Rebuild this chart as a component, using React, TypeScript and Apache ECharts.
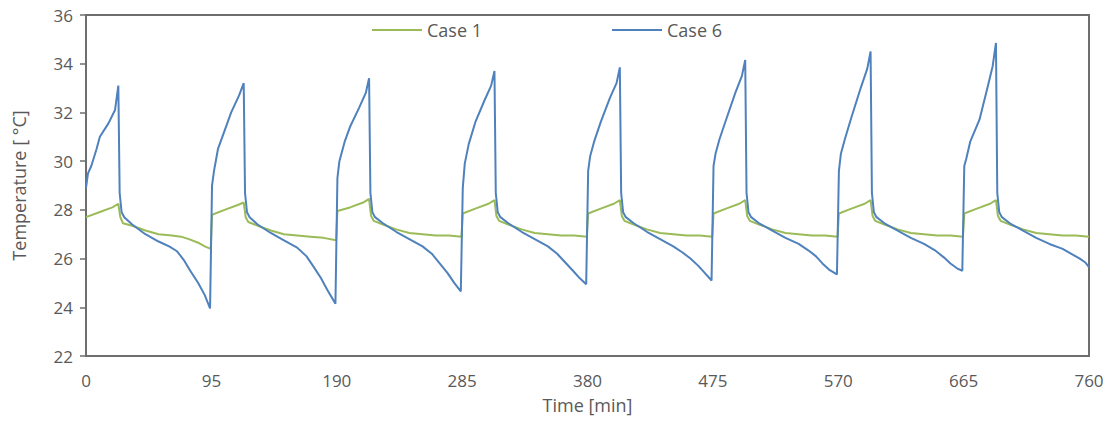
import React, { useEffect, useRef } from "react";
import * as echarts from "echarts";

const xTicks = [0, 95, 190, 285, 380, 475, 570, 665, 760];
const yTicks = [22, 24, 26, 28, 30, 32, 34, 36];

const seriesNames = ["Case 1", "Case 6"];

// Case 1: [time (min), temperature (°C)]
const case1: [number, number][] = [
  [0, 27.7], [10, 27.9], [20, 28.1], [24.5, 28.25], [26, 27.7], [28, 27.45], [35, 27.35], [45, 27.15], [55, 27.0], [65, 26.95], [72, 26.9], [78, 26.8], [85, 26.65], [90, 26.5], [94.5, 26.4],
  [95.5, 27.8], [105, 28.0], [115, 28.2], [119.5, 28.3], [121, 27.7], [123, 27.5], [130, 27.35], [140, 27.15], [150, 27.0], [160, 26.95], [170, 26.9], [180, 26.85], [189.5, 26.75],
  [190.5, 27.95], [200, 28.1], [210, 28.3], [214.5, 28.45], [216, 27.75], [218, 27.55], [225, 27.4], [235, 27.2], [245, 27.05], [255, 27.0], [265, 26.95], [275, 26.95], [284.5, 26.9],
  [285.5, 27.85], [295, 28.05], [305, 28.25], [309.5, 28.4], [311, 27.75], [313, 27.55], [320, 27.4], [330, 27.2], [340, 27.05], [350, 27.0], [360, 26.95], [370, 26.95], [379.5, 26.9],
  [380.5, 27.85], [390, 28.05], [400, 28.25], [404.5, 28.4], [406, 27.75], [408, 27.55], [415, 27.4], [425, 27.2], [435, 27.05], [445, 27.0], [455, 26.95], [465, 26.95], [474.5, 26.9],
  [475.5, 27.85], [485, 28.05], [495, 28.25], [499.5, 28.4], [501, 27.75], [503, 27.55], [510, 27.4], [520, 27.2], [530, 27.05], [540, 27.0], [550, 26.95], [560, 26.95], [569.5, 26.9],
  [570.5, 27.85], [580, 28.05], [590, 28.25], [594.5, 28.4], [596, 27.75], [598, 27.55], [605, 27.4], [615, 27.2], [625, 27.05], [635, 27.0], [645, 26.95], [655, 26.95], [664.5, 26.9],
  [665.5, 27.85], [675, 28.05], [685, 28.25], [689.5, 28.4], [691, 27.75], [693, 27.55], [700, 27.4], [710, 27.2], [720, 27.05], [730, 27.0], [740, 26.95], [750, 26.95], [760, 26.9],
];

// Case 6: [time (min), temperature (°C)]
const case6: [number, number][] = [
  [0, 28.9], [1.5, 29.5], [4, 29.8], [8, 30.5], [10.5, 31.0], [17, 31.55], [22, 32.1], [24.5, 33.1], [25.5, 28.7], [27, 27.9], [29, 27.7], [35, 27.4], [45, 27.0], [55, 26.7], [63, 26.5], [69, 26.3], [74, 25.95], [79, 25.5], [85, 25.0], [90, 24.5], [94, 23.95],
  [95.5, 29.0], [97, 29.6], [100, 30.5], [104, 31.1], [110, 32.0], [116, 32.7], [119.5, 33.2], [120.5, 28.7], [122, 27.9], [124, 27.7], [130, 27.4], [140, 27.05], [150, 26.75], [160, 26.45], [167, 26.1], [172, 25.7], [178, 25.2], [183, 24.7], [189, 24.15],
  [190.5, 29.3], [192, 30.0], [196, 30.8], [200, 31.4], [207, 32.2], [212, 32.8], [214.5, 33.4], [215.5, 28.7], [217, 27.9], [219, 27.7], [225, 27.45], [235, 27.1], [245, 26.8], [255, 26.5], [262, 26.2], [268, 25.8], [274, 25.4], [279, 25.0], [284, 24.65],
  [285.5, 28.9], [287, 29.9], [290, 30.7], [295, 31.6], [302, 32.5], [307, 33.1], [309.5, 33.7], [310.5, 28.7], [312, 27.9], [314, 27.7], [320, 27.45], [330, 27.1], [340, 26.8], [350, 26.5], [357, 26.2], [363, 25.85], [369, 25.5], [374, 25.2], [379, 24.95],
  [380.5, 29.6], [382, 30.2], [385, 30.8], [390, 31.6], [397, 32.6], [402, 33.2], [404.5, 33.85], [405.5, 28.7], [407, 27.9], [409, 27.7], [415, 27.45], [425, 27.1], [435, 26.8], [445, 26.5], [452, 26.25], [458, 26.0], [464, 25.7], [469, 25.4], [474, 25.1],
  [475.5, 29.8], [477, 30.3], [480, 30.9], [485, 31.7], [492, 32.8], [497, 33.5], [499.5, 34.15], [500.5, 28.7], [502, 27.9], [504, 27.7], [510, 27.45], [520, 27.15], [530, 26.85], [540, 26.6], [547, 26.35], [553, 26.1], [558, 25.8], [563, 25.55], [569, 25.35],
  [570.5, 29.6], [572, 30.3], [575, 30.9], [580, 31.8], [587, 33.0], [592, 33.8], [594.5, 34.5], [595.5, 28.7], [597, 27.9], [599, 27.7], [605, 27.45], [615, 27.15], [625, 26.85], [635, 26.6], [643, 26.35], [650, 26.05], [655, 25.8], [660, 25.6], [664, 25.5],
  [665.5, 29.8], [667, 30.1], [670, 30.8], [677, 31.7], [683, 33.0], [687, 33.9], [689.5, 34.85], [690.5, 28.7], [692, 27.9], [694, 27.7], [700, 27.45], [710, 27.15], [720, 26.85], [730, 26.6], [740, 26.4], [748, 26.15], [753, 26.0], [757, 25.85], [760, 25.65],
];

const FONT = "'Open Sans', 'Noto Sans', sans-serif";
const TEXT = "#595959";
const AXIS = "#6e6e6e";
const GREEN = "#9BBB59";
const BLUE = "#4F81BD";

export default function App() {
  const ref = useRef<HTMLDivElement>(null);
  useEffect(() => {
    if (!ref.current) return;
    const chart = echarts.init(ref.current, undefined, { renderer: "svg" });
    const legendBase = {
      top: 21, padding: 0, icon: "rect",
      itemWidth: 50, itemHeight: 2, itemGap: 4,
      textStyle: { fontFamily: FONT, fontSize: 18, color: TEXT },
    };
    chart.setOption({
      animation: false,
      backgroundColor: "#ffffff",
      textStyle: { fontFamily: FONT },
      grid: {
        left: 86, right: 24, top: 15, bottom: 69,
        show: true, borderColor: AXIS, borderWidth: 2,
      },
      legend: [
        { ...legendBase, data: [seriesNames[0]], left: 372 },
        { ...legendBase, data: [seriesNames[1]], left: 612 },
      ],
      xAxis: {
        type: "value",
        min: xTicks[0],
        max: xTicks[xTicks.length - 1],
        interval: xTicks[1] - xTicks[0],
        name: "Time [min]",
        nameLocation: "middle",
        nameGap: 40,
        nameTextStyle: { fontFamily: FONT, fontSize: 18, color: TEXT },
        axisLine: { show: true, lineStyle: { color: AXIS, width: 2 } },
        axisTick: { show: false },
        axisLabel: { fontFamily: FONT, fontSize: 17, color: TEXT, margin: 16 },
        splitLine: { show: false },
      },
      yAxis: {
        type: "value",
        min: yTicks[0],
        max: yTicks[yTicks.length - 1],
        interval: yTicks[1] - yTicks[0],
        name: "Temperature [ °C]",
        nameLocation: "middle",
        nameGap: 58,
        nameTextStyle: { fontFamily: FONT, fontSize: 18, color: TEXT },
        axisLine: { show: true, lineStyle: { color: AXIS, width: 2 } },
        axisTick: { show: true, inside: false, length: 6, lineStyle: { color: AXIS, width: 1.5 } },
        axisLabel: { fontFamily: FONT, fontSize: 17, color: TEXT, margin: 13 },
        splitLine: { show: false },
      },
      series: [
        {
          name: seriesNames[0], type: "line", data: case1, symbol: "none",
          lineStyle: { color: GREEN, width: 2 }, itemStyle: { color: GREEN },
        },
        {
          name: seriesNames[1], type: "line", data: case6, symbol: "none",
          lineStyle: { color: BLUE, width: 2 }, itemStyle: { color: BLUE },
        },
      ],
    });
    return () => chart.dispose();
  }, []);
  return (
    <div
      ref={ref}
      style={{ position: "fixed", left: 0, top: 0, width: 1113, height: 425, background: "#fff" }}
    />
  );
}
